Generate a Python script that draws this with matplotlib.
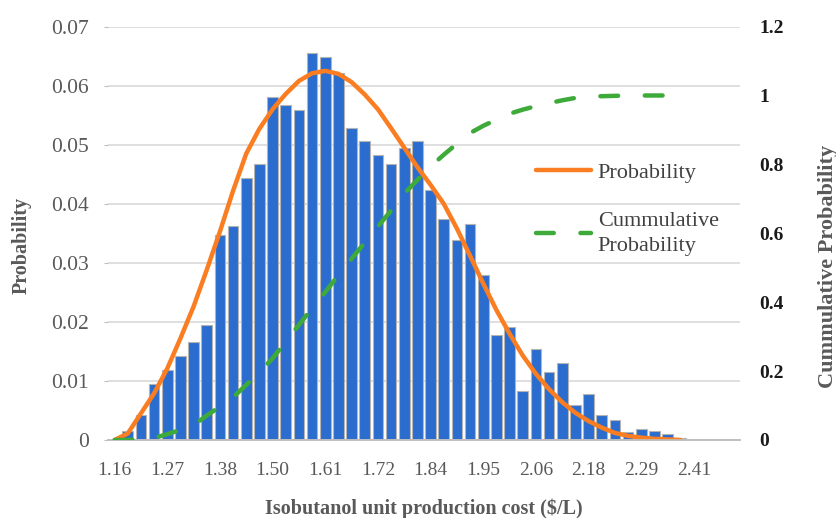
import numpy as np
import matplotlib
matplotlib.use("Agg")
import matplotlib.pyplot as plt

plt.rcParams['font.family'] = ['Liberation Serif', 'DejaVu Serif']

# histogram bins (one per category), labels shown every 4th bin
cost_labels = ['1.16', '1.27', '1.38', '1.50', '1.61', '1.72',
               '1.84', '1.95', '2.06', '2.18', '2.29', '2.41']
n_categories = 48

bar_prob = [0.0, 0.0016, 0.0043, 0.0095, 0.0118, 0.0142, 0.0166, 0.0194,
            0.0347, 0.0363, 0.0443, 0.0467, 0.0580, 0.0568, 0.0559, 0.0656,
            0.0648, 0.0621, 0.0528, 0.0507, 0.0483, 0.0467, 0.0495, 0.0507,
            0.0423, 0.0375, 0.0339, 0.0366, 0.0279, 0.0178, 0.0191, 0.0083,
            0.0154, 0.0115, 0.0130, 0.0059, 0.0078, 0.0043, 0.0034, 0.0014,
            0.0019, 0.0015, 0.0010, 0.0003]

fit_prob = [0.0, 0.0011, 0.0045, 0.0079, 0.0121, 0.0172, 0.0226, 0.0288,
            0.0353, 0.0422, 0.0485, 0.0527, 0.0560, 0.0586, 0.0608, 0.0621,
            0.0625, 0.0620, 0.0606, 0.0585, 0.0560, 0.0528, 0.0495, 0.0462,
            0.0432, 0.0400, 0.0358, 0.0312, 0.0265, 0.0220, 0.0180, 0.0143,
            0.0112, 0.0086, 0.0064, 0.0046, 0.0032, 0.0021, 0.0012, 0.0007,
            0.0004, 0.0002, 0.0001, 0.0]

cum_prob = [0.0, 0.0, 0.002, 0.006, 0.017, 0.029, 0.043, 0.071, 0.097, 0.124,
            0.160, 0.197, 0.237, 0.286, 0.334, 0.383, 0.429, 0.479, 0.526,
            0.573, 0.620, 0.666, 0.715, 0.755, 0.794, 0.828, 0.860, 0.891,
            0.912, 0.930, 0.947, 0.959, 0.969, 0.978, 0.986, 0.993, 0.997,
            0.998, 0.999, 1.0, 1.0, 1.0, 1.0, 1.0]

gray = '#595959'

fig = plt.figure(figsize=(8.37, 5.18), dpi=100)
ax = fig.add_axes([108 / 837, 78 / 518, 632 / 837, 413.4 / 518])
ax2 = ax.twinx()

x = np.arange(len(bar_prob))
ax.bar(x, bar_prob, width=0.8, color='#2a6dcf', edgecolor='#b4b4b4',
       linewidth=0.8, zorder=2)
line1, = ax.plot(np.arange(len(fit_prob)), fit_prob, color='#fb7d22',
                 lw=3.2, solid_capstyle='round', solid_joinstyle='round',
                 zorder=4, label='Probability')
line2, = ax2.plot(np.arange(len(cum_prob)), cum_prob, color='#3daa3a',
                  lw=3.2, dashes=(4, 6), dash_capstyle='round', zorder=3,
                  label='Cummulative\nProbability')

ax.set_xlim(-0.5, n_categories - 0.5)
ax.set_ylim(0, 0.07)
ax2.set_ylim(0, 1.2)

ax.set_yticks(np.arange(0, 0.0701, 0.01))
ax.set_yticklabels(['0'] + ['%.2f' % v for v in np.arange(0.01, 0.0701, 0.01)])
ax2.set_yticks(np.arange(0, 1.21, 0.2))
ax2.set_yticklabels(['0', '0.2', '0.4', '0.6', '0.8', '1', '1.2'],
                    fontweight='bold')
ax.set_xticks(np.arange(0, 4 * len(cost_labels), 4))
ax.set_xticklabels(cost_labels)

ax.grid(axis='y', color='#d9d9d9', lw=1.2, zorder=0)
ax.set_axisbelow(True)
for a in (ax, ax2):
    for s in ('top', 'right', 'left'):
        a.spines[s].set_visible(False)
    a.spines['bottom'].set_color('#bfbfbf')
    a.spines['bottom'].set_linewidth(1.2)

ax.tick_params(axis='y', length=3, color='#bfbfbf', pad=11, labelsize=15.5,
               labelcolor=gray)
ax.tick_params(axis='x', length=0, pad=16, labelsize=14, labelcolor=gray)
ax2.tick_params(axis='y', length=0, pad=14, labelsize=14, labelcolor='#1a1a1a')

ax.set_ylabel('Probability', fontsize=14.5, fontweight='bold', color=gray)
ax.yaxis.set_label_coords(-0.12, 0.47)
ax2.set_ylabel('Cummulative Probability', fontsize=16, fontweight='bold',
               color=gray)
ax2.yaxis.set_label_coords(1.124, 0.42)
ax.set_xlabel('Isobutanol unit production cost ($/L)', fontsize=14.5,
              fontweight='bold', color=gray, labelpad=14)

leg = ax2.legend(handles=[line1, line2], loc='upper left',
                 bbox_to_anchor=(0.645, 0.72), frameon=False, fontsize=16,
                 handlelength=2.5, handletextpad=0.3, labelspacing=1.3)
for t in leg.get_texts():
    t.set_color('#404040')
    t.set_linespacing(1.45)

fig.savefig('out.png', dpi=100)
